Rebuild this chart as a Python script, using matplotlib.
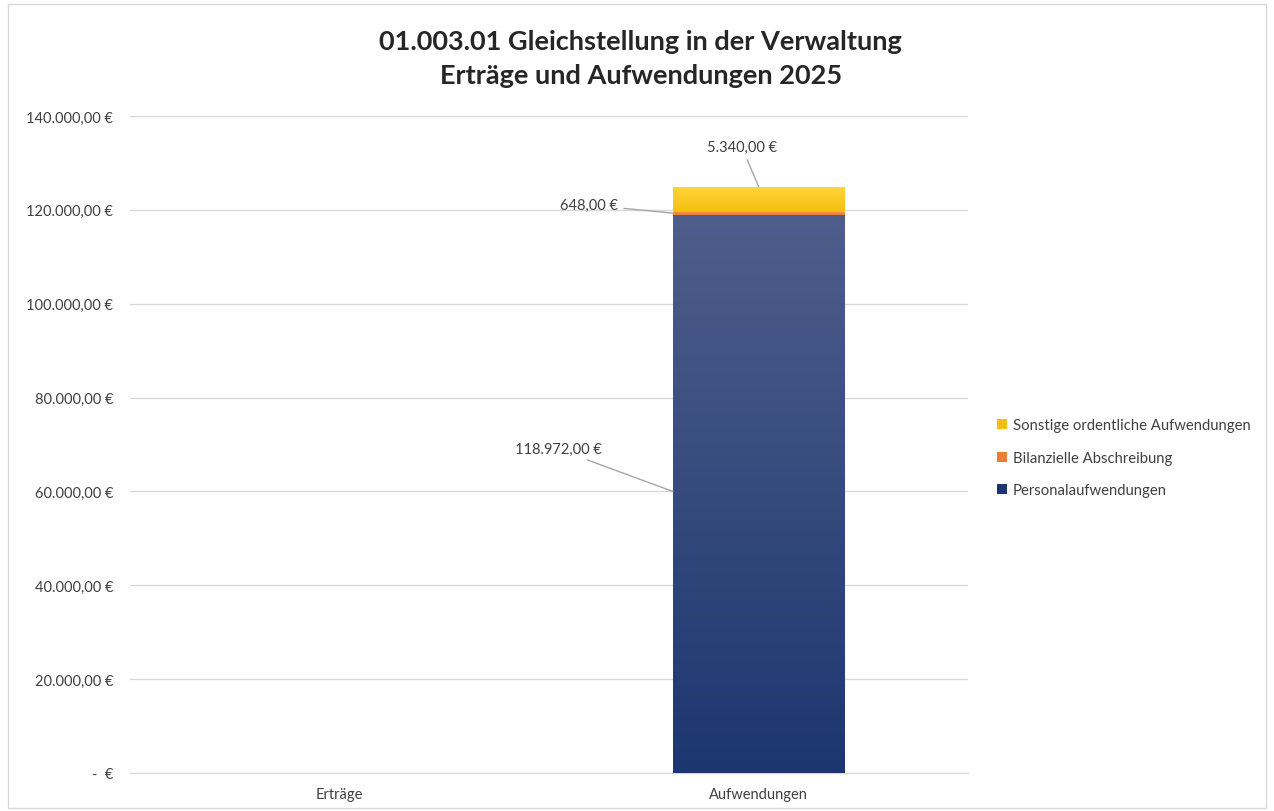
import matplotlib.pyplot as plt
import numpy as np
from matplotlib.colors import LinearSegmentedColormap
from matplotlib.patches import Rectangle

plt.rcParams['font.family'] = ['Lato', 'DejaVu Sans']

# Daten
kategorien = ["Erträge", "Aufwendungen"]
reihen = ["Personalaufwendungen", "Bilanzielle Abschreibung", "Sonstige ordentliche Aufwendungen"]
werte = {
    "Personalaufwendungen": [0, 118972.00],
    "Bilanzielle Abschreibung": [0, 648.00],
    "Sonstige ordentliche Aufwendungen": [0, 5340.00],
}
farben = {
    "Personalaufwendungen": ("#1c376f", "#4f5e8b"),
    "Bilanzielle Abschreibung": ("#ed7d31", "#f19a5a"),
    "Sonstige ordentliche Aufwendungen": ("#f5bf0f", "#ffd53d"),
}
yticks = [0, 20000, 40000, 60000, 80000, 100000, 120000, 140000]


def euro(v):
    if v == 0:
        return "-  €"
    s = f"{v:,.2f}".replace(",", "X").replace(".", ",").replace("X", ".")
    return s + " €"


fig = plt.figure(figsize=(12.74, 8.12), dpi=100)
fig.patches.append(Rectangle((0.006, 0.004), 0.988, 0.99, transform=fig.transFigure,
                             fill=False, edgecolor="#d9d9d9", linewidth=1))
ax = fig.add_axes([0.102, 0.0468, 0.658, 0.8092])

x = np.arange(len(kategorien))
breite = 0.41
unten = np.zeros(len(kategorien))
for name in reihen:
    vals = np.array(werte[name])
    dunkel, hell = farben[name]
    bars = ax.bar(x, vals, breite, bottom=unten, color=dunkel, label=name, zorder=2,
                  linewidth=0)
    cmap = LinearSegmentedColormap.from_list(name, [dunkel, hell])
    for b, v in zip(bars, vals):
        if v <= 0:
            continue
        x0, y0 = b.get_x(), b.get_y()
        grad = np.linspace(0, 1, 256).reshape(-1, 1)
        im = ax.imshow(grad, cmap=cmap, origin="lower", aspect="auto",
                       extent=[x0, x0 + b.get_width(), y0, y0 + b.get_height()], zorder=3)
        im.set_clip_path(b)
    unten += vals

ax.set_xlim(-0.5, 1.5)
ax.set_ylim(0, 140000)
ax.set_yticks(yticks)
ax.set_yticklabels([euro(v) for v in yticks])
ax.set_xticks(x)
ax.set_xticklabels(kategorien)
ax.tick_params(length=0, labelsize=10.5, colors="#404040", pad=12)
ax.tick_params(axis="x", pad=10)
ax.grid(axis="y", color="#d9d9d9", linewidth=1, zorder=0)
for s in ax.spines.values():
    s.set_visible(False)
ax.spines["bottom"].set_visible(True)
ax.spines["bottom"].set_color("#d9d9d9")

# Datenbeschriftungen mit Führungslinien
i = 1
pa = werte["Personalaufwendungen"][i]
ab = werte["Bilanzielle Abschreibung"][i]
so = werte["Sonstige ordentliche Aufwendungen"][i]
links = x[i] - breite / 2
kw = dict(fontsize=10.5, color="#404040", va="center",
          arrowprops=dict(arrowstyle="-", color="#a6a6a6", lw=1, shrinkA=2, shrinkB=0))
ax.annotate(euro(so), xy=(x[i], pa + ab + so), xytext=(x[i] - 0.04, 133300), ha="center", **kw)
ax.annotate(euro(ab), xy=(links, pa + ab / 2), xytext=(links - 0.13, 121000), ha="right", **kw)
ax.annotate(euro(pa), xy=(links, 60000), xytext=(links - 0.17, 69000), ha="right", **kw)

handles, labels = ax.get_legend_handles_labels()
fig.legend(handles[::-1], labels[::-1], loc="center left", bbox_to_anchor=(0.772, 0.435),
           frameon=False, fontsize=10.7, handlelength=0.65, handleheight=0.65,
           handletextpad=0.4, labelspacing=1.25, labelcolor="#404040")

fig.text(0.503, 0.948, "01.003.01 Gleichstellung in der Verwaltung", ha="center", va="center",
         fontsize=19.5, fontweight="bold", color="#262626")
fig.text(0.503, 0.907, "Erträge und Aufwendungen 2025", ha="center", va="center",
         fontsize=19.5, fontweight="bold", color="#262626")

fig.savefig("out.png", dpi=100)
